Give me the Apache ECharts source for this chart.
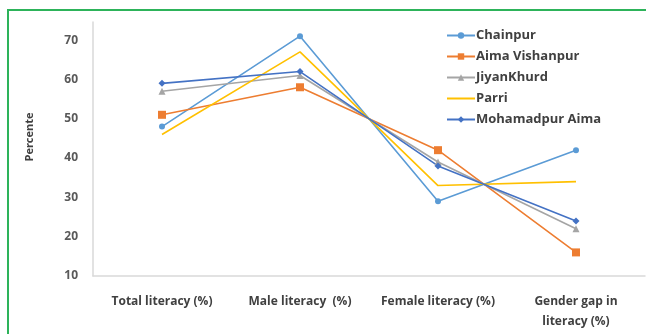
<!DOCTYPE html>
<html>
<head>
<meta charset="utf-8">
<script src="https://cdn.jsdelivr.net/npm/echarts@6/dist/echarts.min.js"></script>
<style>
  html, body { margin: 0; padding: 0; background: #fff; }
  #chart { width: 646px; height: 334px; }
</style>
</head>
<body>
<div id="chart"></div>
<script>
// Literacy indicators per village
const categories = ['Total literacy (%)', 'Male literacy  (%)', 'Female literacy (%)', 'Gender gap in\nliteracy (%)'];
const chainpur = [48, 71, 29, 42];
const aimaVishanpur = [51, 58, 42, 16];
const jiyanKhurd = [57, 61, 39, 22];
const parri = [46, 67, 33, 34];
const mohamadpurAima = [59, 62, 38, 24];
const yTicks = { min: 10, max: 74.6, interval: 10 };

const font = '"Open Sans", "Liberation Sans", sans-serif';

function line(name, data, color, symbol, size) {
  return {
    name, type: 'line', data,
    symbol, symbolSize: size, showSymbol: symbol !== 'none',
    lineStyle: { color, width: 1.6 },
    itemStyle: { color },
    emphasis: { disabled: true },
    z: 3
  };
}

const chart = echarts.init(document.getElementById('chart'), null, { renderer: 'canvas' });
chart.setOption({
  animation: false,
  backgroundColor: '#fff',
  grid: { left: 93, right: 1, top: 22, bottom: 58 },
  legend: {
    orient: 'vertical',
    left: 441, top: 24,
    itemWidth: 28, itemHeight: 8, itemGap: 8,
    textStyle: { fontFamily: font, fontSize: 13, fontWeight: 'bold', color: '#404040', padding: [0, 0, 0, -4] },
    data: ['Chainpur', 'Aima Vishanpur', 'JiyanKhurd',
           { name: 'Parri', itemStyle: { opacity: 0 } }, 'Mohamadpur Aima']
  },
  xAxis: {
    type: 'category',
    data: categories,
    boundaryGap: true,
    axisLine: { lineStyle: { color: '#d9d9d9', width: 1.5 } },
    axisTick: { show: false },
    axisLabel: {
      interval: 0, margin: 16, lineHeight: 20,
      fontFamily: font, fontSize: 12, fontWeight: 'bold', color: '#404040'
    }
  },
  yAxis: {
    type: 'value',
    min: yTicks.min, max: yTicks.max, interval: yTicks.interval,
    splitLine: { show: false },
    axisLine: { show: true, lineStyle: { color: '#d9d9d9', width: 1.5 } },
    axisTick: { show: false },
    axisLabel: { showMaxLabel: false, margin: 15, fontFamily: font, fontSize: 12, fontWeight: 'bold', color: '#595959' }
  },
  graphic: [
    { type: 'rect', shape: { x: 8, y: 10, width: 700, height: 400 },
      style: { fill: 'none', stroke: '#2db35a', lineWidth: 2 }, silent: true },
    { type: 'text', x: 30, y: 137, rotation: Math.PI / 2,
      style: { text: 'Percente', fontFamily: font, fontSize: 11, fontWeight: 'bold', fill: '#404040',
               align: 'center', verticalAlign: 'middle' } }
  ],
  series: [
    line('Chainpur', chainpur, '#5b9bd5', 'circle', 6),
    line('Aima Vishanpur', aimaVishanpur, '#ed7d31', 'rect', 8),
    line('JiyanKhurd', jiyanKhurd, '#a5a5a5', 'triangle', 7),
    line('Parri', parri, '#ffc000', 'none', 0),
    line('Mohamadpur Aima', mohamadpurAima, '#4472c4', 'diamond', 7)
  ]
});
</script>
</body>
</html>
